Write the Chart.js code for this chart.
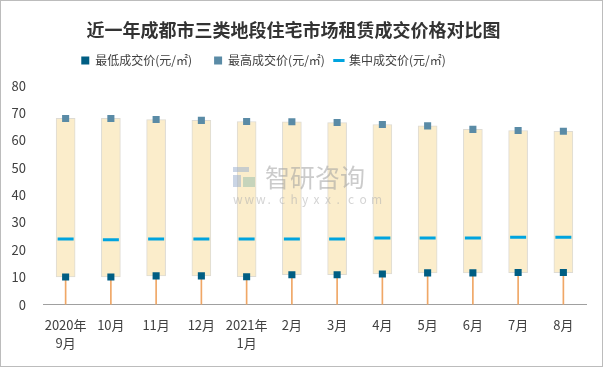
<!DOCTYPE html>
<html>
<head>
<meta charset="utf-8">
<script src="https://cdn.jsdelivr.net/npm/chart.js@4/dist/chart.umd.min.js"></script>
<style>
  html, body { margin: 0; padding: 0; background: #fff; }
  #wrap { position: relative; width: 601px; height: 365px; border: 1px solid #bcbcbc; }
</style>
</head>
<body>
<div id="wrap"><canvas id="myChart" width="601" height="365"></canvas></div>
<script>
// 数据
const labels = [['2020年', '9月'], '10月', '11月', '12月', ['2021年', '1月'], '2月', '3月', '4月', '5月', '6月', '7月', '8月'];
const minPrice = [10.1, 10.1, 10.5, 10.5, 10.2, 10.9, 10.9, 11.2, 11.6, 11.6, 11.7, 11.7];
const maxPrice = [68.0, 68.0, 67.6, 67.3, 66.9, 66.8, 66.5, 65.8, 65.3, 64.0, 63.6, 63.3];
const midPrice = [24.0, 23.7, 24.0, 24.0, 24.0, 24.0, 24.0, 24.3, 24.3, 24.3, 24.6, 24.6];
const yTicks = [0, 10, 20, 30, 40, 50, 60, 70, 80];

const FONT = '"Noto Sans CJK SC", "Microsoft YaHei", sans-serif';

// 图例下方留白
const legendGap = {
  id: 'legendGap',
  beforeInit(chart) {
    const fit = chart.legend.fit;
    chart.legend.fit = function () {
      fit.call(this);
      this.height += 9;
    };
  }
};

// 水印
const watermark = {
  id: 'watermark',
  afterDatasetsDraw(chart) {
    const ctx = chart.ctx;
    ctx.save();
    ctx.globalAlpha = 0.55;
    ctx.fillStyle = '#9fb3cf';
    ctx.fillRect(232, 166, 16, 5);
    ctx.fillRect(232, 174, 8, 12);
    ctx.fillStyle = '#9bbfae';
    ctx.fillRect(242, 176, 12, 10);
    ctx.fillStyle = '#a0a0a0';
    ctx.font = '25px ' + FONT;
    ctx.textBaseline = 'middle';
    ctx.fillText('智研咨询', 264, 176);
    ctx.font = '12px ' + FONT;
    ctx.fillStyle = '#b0b0b0';
    const url = 'www.chyxx.com';
    for (let i = 0; i < url.length; i++) {
      ctx.fillText(url[i], 232 + i * 11.5, 198);
    }
    ctx.restore();
  }
};

const ctx = document.getElementById('myChart');
new Chart(ctx, {
  data: {
    labels: labels,
    datasets: [{
      type: 'line',
      label: '最低成交价(元/㎡)　',
      data: minPrice,
      showLine: false,
      pointStyle: 'rect',
      pointRadius: 5,
      pointBackgroundColor: '#005e83',
      pointBorderColor: '#005e83',
      backgroundColor: '#005e83',
      borderColor: '#005e83',
      borderWidth: 0
    }, {
      type: 'line',
      label: '最高成交价(元/㎡)',
      data: maxPrice,
      showLine: false,
      pointStyle: 'rect',
      pointRadius: 5,
      pointBackgroundColor: '#5a8ba6',
      pointBorderColor: '#5a8ba6',
      backgroundColor: '#5a8ba6',
      borderColor: '#5a8ba6',
      borderWidth: 0
    }, {
      type: 'line',
      label: '集中成交价(元/㎡)　　　　　',
      data: midPrice,
      showLine: false,
      pointStyle: 'line',
      pointRadius: 8,
      pointBorderWidth: 3,
      pointBorderColor: '#00a4df',
      backgroundColor: '#00a4df',
      borderColor: '#00a4df',
      borderWidth: 3
    }, {
      type: 'bar',
      label: 'drop',
      data: minPrice.map(v => [0, v]),
      backgroundColor: '#f0a766',
      borderWidth: 0,
      barThickness: 1,
      grouped: false
    }, {
      type: 'bar',
      label: 'range',
      data: minPrice.map((v, i) => [v, maxPrice[i]]),
      backgroundColor: '#fbedcb',
      borderColor: '#dedbd3',
      borderWidth: 1,
      borderSkipped: false,
      barThickness: 19,
      grouped: false
    }]
  },
  options: {
    responsive: false,
    animation: false,
    layout: { padding: { left: 0, right: 16, top: 4, bottom: 3 } },
    plugins: {
      title: {
        display: true,
        text: '近一年成都市三类地段住宅市场租赁成交价格对比图',
        color: '#333333',
        font: { family: FONT, size: 18, weight: 'bold' },
        padding: { top: 14, bottom: 4 }
      },
      legend: {
        display: true,
        labels: {
          filter: item => item.datasetIndex < 3,
          usePointStyle: true,
          boxWidth: 8,
          boxHeight: 8,
          color: '#404040',
          font: { family: FONT, size: 12 },
          padding: 10
        }
      },
      tooltip: { enabled: false }
    },
    scales: {
      x: {
        offset: true,
        grid: { display: false, drawTicks: false },
        border: { display: true, color: '#a0a0a0', width: 1 },
        ticks: {
          color: '#404040',
          font: { family: FONT, size: 13, lineHeight: 1.4 },
          maxRotation: 0,
          autoSkip: false,
          padding: 11
        }
      },
      y: {
        min: 0,
        max: 80,
        grid: { display: false, drawTicks: false },
        border: { display: false },
        afterBuildTicks: axis => { axis.ticks = yTicks.map(v => ({ value: v })); },
        afterFit: axis => { axis.width = 42; },
        ticks: {
          color: '#404040',
          font: { family: FONT, size: 13 },
          padding: 17
        }
      }
    }
  },
  plugins: [legendGap, watermark]
});
</script>
</body>
</html>
